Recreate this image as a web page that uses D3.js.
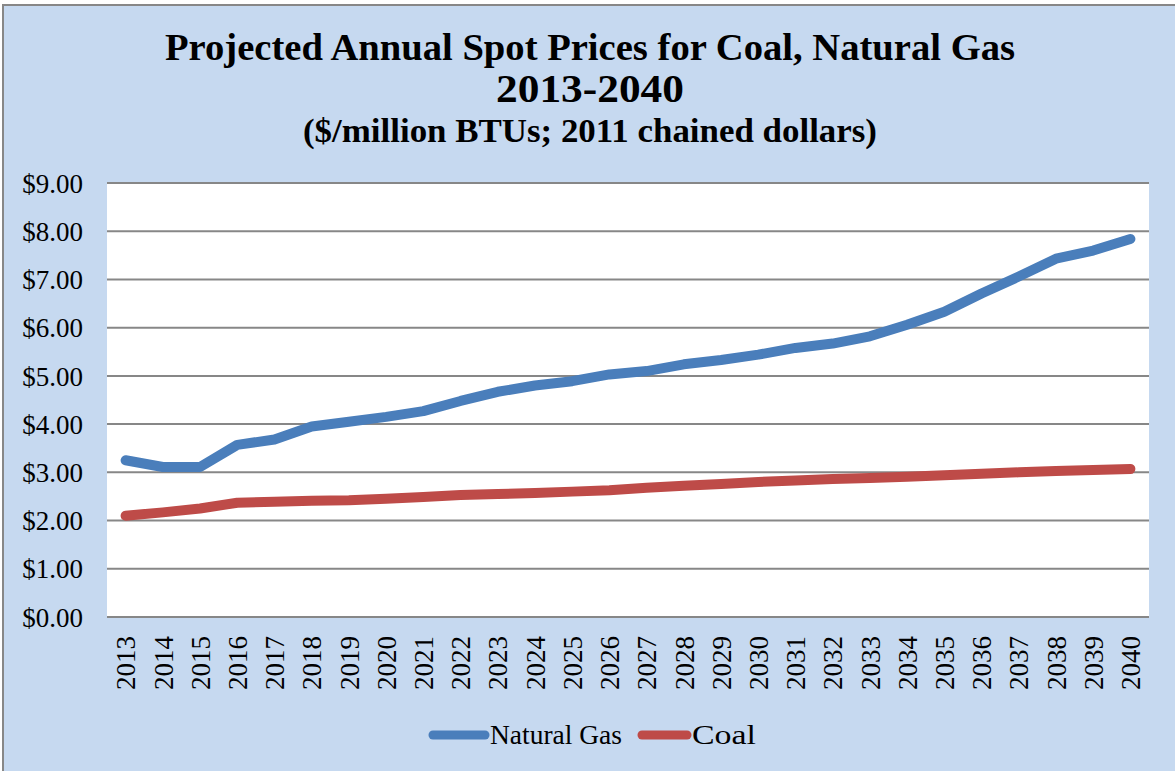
<!DOCTYPE html>
<html>
<head>
<meta charset="utf-8">
<script src="https://cdn.jsdelivr.net/npm/d3@7"></script>
<style>
  html, body { margin: 0; padding: 0; background: #ffffff; }
  svg { display: block; }
</style>
</head>
<body>
<svg id="chart" width="1175" height="771"></svg>
<script>
// ---- Data ----
const years = ["2013","2014","2015","2016","2017","2018","2019","2020","2021","2022","2023","2024","2025","2026","2027","2028","2029","2030","2031","2032","2033","2034","2035","2036","2037","2038","2039","2040"];
const naturalGas = [3.25,3.11,3.11,3.57,3.68,3.95,4.05,4.15,4.27,4.48,4.67,4.80,4.89,5.03,5.10,5.24,5.33,5.44,5.58,5.67,5.82,6.06,6.33,6.71,7.06,7.43,7.60,7.84];
const coal = [2.10,2.17,2.25,2.37,2.39,2.41,2.42,2.45,2.49,2.53,2.55,2.57,2.60,2.63,2.68,2.72,2.76,2.80,2.83,2.86,2.88,2.91,2.94,2.97,3.00,3.03,3.05,3.07];
const yTicks = [0,1,2,3,4,5,6,7,8,9];
const seriesNames = ["Natural Gas","Coal"];
const seriesColors = ["#4a7ebb","#be4b48"];
const titleLines = ["Projected Annual Spot Prices for Coal, Natural Gas","2013-2040","($/million BTUs; 2011 chained dollars)"];

// ---- Layout ----
const W = 1175, H = 771;
const plot = {left: 107, top: 183, right: 1149, bottom: 617};
const svg = d3.select("#chart");
const serif = "'Liberation Serif','Times New Roman',serif";

svg.append("rect").attr("x", 3).attr("y", 5).attr("width", W + 10).attr("height", H + 10)
  .attr("fill", "#c6d9f0").attr("stroke", "#878787").attr("stroke-width", 2);

// Title
const tsizes = [38.5, 39, 34.5];
const tbase = [60, 102, 142];
const twidth = [850, 188, 574];
titleLines.forEach((t, i) => {
  svg.append("text").attr("x", 590).attr("y", tbase[i]).attr("text-anchor", "middle")
    .attr("font-family", serif).attr("font-weight", "bold").attr("font-size", tsizes[i])
    .attr("textLength", twidth[i]).attr("lengthAdjust", "spacingAndGlyphs")
    .attr("fill", "#000").text(t);
});

// Scales
const x = d3.scalePoint().domain(years).range([plot.left, plot.right]).padding(0.5);
const y = d3.scaleLinear().domain([0, 9]).range([plot.bottom, plot.top]);

svg.append("rect").attr("x", plot.left).attr("y", plot.top)
  .attr("width", plot.right - plot.left).attr("height", plot.bottom - plot.top).attr("fill", "#ffffff");

// Gridlines
svg.append("g").selectAll("line").data(yTicks).join("line")
  .attr("x1", plot.left).attr("x2", plot.right)
  .attr("y1", d => y(d)).attr("y2", d => y(d))
  .attr("stroke", "#878787").attr("stroke-width", 2);

// Y axis labels
const yAxis = d3.axisLeft(y).tickValues(yTicks).tickFormat(d => "$" + d3.format(".2f")(d)).tickSize(0).tickPadding(24);
const gy = svg.append("g").attr("transform", `translate(${plot.left},0)`).call(yAxis);
gy.select(".domain").remove();
gy.selectAll("text").attr("font-family", serif).attr("font-size", 27).attr("fill", "#000").attr("dy", "0.34em");

// X axis labels
const xAxis = d3.axisBottom(x).tickSize(0).tickPadding(0);
const gx = svg.append("g").attr("transform", `translate(0,${plot.bottom})`).call(xAxis);
gx.select(".domain").remove();
gx.selectAll("text")
  .attr("font-family", serif).attr("font-size", 27).attr("fill", "#000")
  .attr("text-anchor", "end").attr("transform", "rotate(-90)")
  .attr("x", -19).attr("y", 0).attr("dy", "0.34em");

// Lines
const line = d3.line().x((d, i) => x(years[i])).y(d => y(d));
[naturalGas, coal].forEach((s, i) => {
  svg.append("path").datum(s).attr("d", line).attr("fill", "none")
    .attr("stroke", seriesColors[i]).attr("stroke-width", 10)
    .attr("stroke-linecap", "round").attr("stroke-linejoin", "round");
});

// Legend
const legendItems = [{x1: 433, x2: 485, tx: 490, w: 132}, {x1: 642, x2: 687, tx: 692, w: 64}];
seriesNames.forEach((n, i) => {
  const li = legendItems[i];
  svg.append("line").attr("x1", li.x1).attr("x2", li.x2).attr("y1", 735).attr("y2", 735)
    .attr("stroke", seriesColors[i]).attr("stroke-width", 9).attr("stroke-linecap", "round");
  svg.append("text").attr("x", li.tx).attr("y", 744).attr("font-family", serif)
    .attr("font-size", 27).attr("fill", "#000")
    .attr("textLength", li.w).attr("lengthAdjust", "spacingAndGlyphs").text(n);
});
</script>
</body>
</html>
